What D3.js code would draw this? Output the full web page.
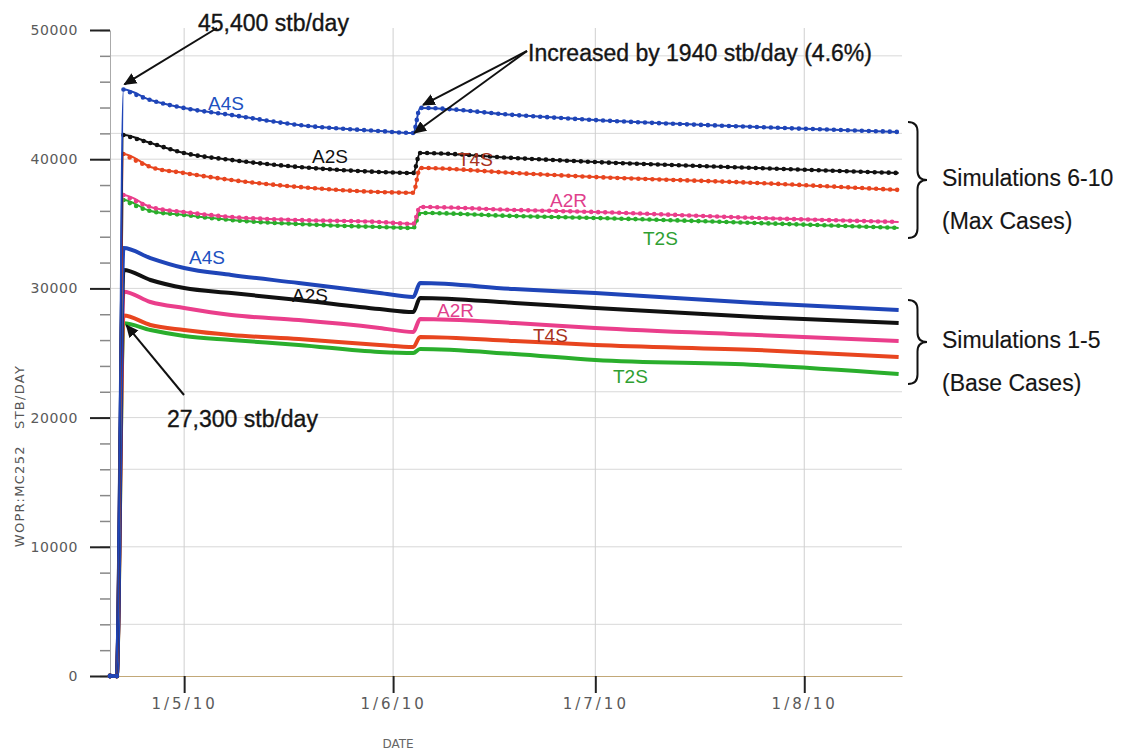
<!DOCTYPE html>
<html>
<head>
<meta charset="utf-8">
<script src="https://cdn.jsdelivr.net/npm/d3@7"></script>
<style>
  body { margin: 0; background: #fff; }
  svg { display: block; }
  .tick-lbl text { font-family: "DejaVu Sans", sans-serif; fill: #5a5a5a; }
  .note { font-family: "Liberation Sans", Arial, sans-serif; font-size: 23px; fill: #151515; stroke: #151515; stroke-width: 0.35px; }
  .series-lbl { font-family: "Liberation Sans", Arial, sans-serif; font-size: 19px; }
</style>
</head>
<body>
<svg id="chart" width="1129" height="751"></svg>
<script>
// sample dates shared by every series
const dates = ['2010-04-20', '2010-04-21', '2010-04-22', '2010-04-26', '2010-05-01', '2010-05-08',
               '2010-05-18', '2010-05-30', '2010-06-04', '2010-06-05', '2010-06-19', '2010-07-01',
               '2010-07-25', '2010-08-15'];

// Simulations 6-10 (max cases), stb/day
const maxA4S = [0, 0, 45400, 44580, 43960, 43420, 42650, 42180, 42030, 43970, 43420, 43030, 42490, 42110];
const maxA2S = [0, 0, 41870, 41250, 40480, 39940, 39400, 39010, 38930, 40480, 40090, 39780, 39320, 38930];
const maxT4S = [0, 0, 40400, 39400, 38930, 38390, 37850, 37460, 37400, 39320, 38930, 38620, 38160, 37620];
const maxA2R = [0, 0, 37230, 36300, 35910, 35530, 35290, 35140, 34990, 36300, 36070, 35910, 35450, 35140];
const maxT2S = [0, 0, 36840, 35990, 35680, 35290, 34980, 34750, 34680, 35840, 35600, 35450, 35060, 34680];

// Simulations 1-5 (base cases)
const baseA4S = [0, 0, 33130, 32350, 31580, 31040, 30420, 29650, 29340, 30420, 29950, 29640, 28870, 28330];
const baseA2S = [0, 0, 31420, 30650, 30030, 29640, 29100, 28400, 28170, 29260, 28870, 28480, 27790, 27320];
const baseA2R = [0, 0, 29750, 28950, 28480, 27940, 27550, 26940, 26630, 27630, 27320, 26940, 26390, 25930];
const baseT4S = [0, 0, 27900, 27170, 26780, 26390, 26080, 25620, 25460, 26240, 25930, 25620, 25230, 24690];
const baseT2S = [0, 0, 27300, 26780, 26320, 26010, 25620, 25080, 25000, 25310, 24920, 24460, 24070, 23370];

const monthTicks = ['2010-05-01', '2010-06-01', '2010-07-01', '2010-08-01'];
const yMajor = [0, 10000, 20000, 30000, 40000, 50000];
const yMinor = d3.range(0, 50001, 2000);
const yGrid = [4000, 10000, 16000, 20000, 22000, 30000, 40000, 42000, 48000];

const parse = d3.timeParse('%Y-%m-%d');
const fmt = d3.timeFormat('%-d/%-m/%y');

const svg = d3.select('#chart');

const x = d3.scaleTime()
    .domain([parse('2010-04-20'), new Date(2010, 7, 15, 12)])
    .range([110, 902]);
const y = d3.scaleLinear()
    .domain([0, 50000])
    .range([676, 30]);

const colors = { A4S: '#1f45b8', A2S: '#111111', T4S: '#e8451f', A2R: '#ea3e8b', T2S: '#2aae2c' };

const seriesList = [
  { name: 'T2S', kind: 'base', values: baseT2S },
  { name: 'T4S', kind: 'base', values: baseT4S },
  { name: 'A2R', kind: 'base', values: baseA2R },
  { name: 'A2S', kind: 'base', values: baseA2S },
  { name: 'A4S', kind: 'base', values: baseA4S },
  { name: 'T2S', kind: 'max', values: maxT2S },
  { name: 'A2R', kind: 'max', values: maxA2R },
  { name: 'T4S', kind: 'max', values: maxT4S },
  { name: 'A2S', kind: 'max', values: maxA2S },
  { name: 'A4S', kind: 'max', values: maxA4S }
].map(s => ({ ...s, points: s.values.map((v, i) => ({ date: parse(dates[i]), value: v })) }));

// grid
svg.append('g').selectAll('line')
  .data(yGrid).enter().append('line')
    .attr('x1', x.range()[0]).attr('x2', x.range()[1])
    .attr('y1', d => y(d)).attr('y2', d => y(d))
    .attr('stroke', '#d8d8d8').attr('stroke-width', 1);

svg.append('g').selectAll('line')
  .data(monthTicks.map(parse)).enter().append('line')
    .attr('x1', d => x(d)).attr('x2', d => x(d))
    .attr('y1', y(50000) - 2).attr('y2', y(0))
    .attr('stroke', '#cfcfcf').attr('stroke-width', 1);

// y axis: minor then major ticks
const yMin = svg.append('g')
    .attr('transform', `translate(${x.range()[0]},0)`)
    .call(d3.axisLeft(y).tickValues(yMinor).tickSize(10).tickSizeOuter(0).tickFormat(''));
yMin.select('.domain').attr('stroke', '#aaa');
yMin.selectAll('.tick line').attr('stroke', '#888').attr('stroke-width', 1.5);

const yMaj = svg.append('g')
    .attr('class', 'tick-lbl')
    .attr('transform', `translate(${x.range()[0]},0)`)
    .call(d3.axisLeft(y).tickValues(yMajor).tickSize(20).tickSizeOuter(0).tickPadding(12).tickFormat(d3.format('d')));
yMaj.select('.domain').remove();
yMaj.selectAll('.tick line').attr('stroke', '#222').attr('stroke-width', 2);
yMaj.selectAll('.tick text').style('font-size', '14px').style('letter-spacing', '0.6px');

// x axis
const xAx = svg.append('g')
    .attr('class', 'tick-lbl')
    .attr('transform', `translate(0,${y(0)})`)
    .call(d3.axisBottom(x).tickValues(monthTicks.map(parse)).tickSize(17).tickSizeOuter(0).tickPadding(5).tickFormat(fmt));
xAx.select('.domain').attr('stroke', '#c2a878').attr('stroke-width', 1.2);
xAx.selectAll('.tick line').attr('stroke', '#222').attr('stroke-width', 2);
xAx.selectAll('.tick text').style('font-size', '15px').style('letter-spacing', '3px');

svg.append('text')
    .attr('x', 398).attr('y', 748)
    .attr('text-anchor', 'middle')
    .style('font-family', '"DejaVu Sans", sans-serif').style('font-size', '12px').style('fill', '#666')
    .text('DATE');

svg.append('text')
    .attr('transform', 'translate(24,456) rotate(-90)')
    .attr('text-anchor', 'middle')
    .style('font-family', '"DejaVu Sans", sans-serif').style('font-size', '13px').style('fill', '#555')
    .style('white-space', 'pre').style('letter-spacing', '1.3px')
    .text('WOPR:MC252   STB/DAY');

// lines
const line = d3.line()
    .x(d => x(d.date))
    .y(d => y(d.value))
    .curve(d3.curveMonotoneX);

seriesList.forEach(s => {
  svg.append('path')
    .datum(s.points)
    .attr('fill', 'none')
    .attr('stroke', colors[s.name])
    .attr('stroke-width', s.kind === 'base' ? 4 : 2)
    .attr('stroke-linejoin', 'round')
    .attr('d', line);
  if (s.kind === 'max') {
    // beaded markers along the max-case curves
    svg.append('path')
      .datum(s.points.slice(2))
      .attr('fill', 'none')
      .attr('stroke', colors[s.name])
      .attr('stroke-width', 4.6)
      .attr('stroke-linecap', 'round')
      .attr('stroke-dasharray', '0 7')
      .attr('d', line);
    svg.append('g').selectAll('circle')
      .data(s.points.slice(0, 2)).enter().append('circle')
        .attr('cx', d => x(d.date)).attr('cy', d => y(d.value))
        .attr('r', 2.4).attr('fill', colors[s.name]);
  }
});

// series labels
const seriesLabels = [
  { t: 'A4S', c: '#2050c0', x: 208, y: 110 },
  { t: 'A2S', c: '#111', x: 312, y: 163 },
  { t: 'T4S', c: '#a8321c', x: 458, y: 166 },
  { t: 'A2R', c: '#e0408c', x: 550, y: 207 },
  { t: 'T2S', c: '#2f9f32', x: 643, y: 245 },
  { t: 'A4S', c: '#2050c0', x: 189, y: 264 },
  { t: 'A2S', c: '#111', x: 292, y: 302 },
  { t: 'A2R', c: '#e0408c', x: 437, y: 317 },
  { t: 'T4S', c: '#a8321c', x: 533, y: 342 },
  { t: 'T2S', c: '#2f9f32', x: 613, y: 383 }
];
svg.append('g').selectAll('text')
  .data(seriesLabels).enter().append('text')
    .attr('class', 'series-lbl')
    .attr('x', d => d.x).attr('y', d => d.y)
    .style('fill', d => d.c)
    .text(d => d.t);

// arrows
const defs = svg.append('defs');
defs.append('marker')
    .attr('id', 'arrow')
    .attr('viewBox', '0 0 10 10')
    .attr('refX', 9).attr('refY', 5)
    .attr('markerWidth', 13).attr('markerHeight', 13)
    .attr('markerUnits', 'userSpaceOnUse')
    .attr('orient', 'auto')
  .append('path')
    .attr('d', 'M0,0.5 L10,5 L0,9.5 z')
    .attr('fill', '#111');

const pk = parse('2010-04-22');
const arrows = [
  { x1: 217, y1: 28, x2: x(pk) + 1, y2: y(maxA4S[2]) - 5 },
  { x1: 527, y1: 51, x2: x(parse('2010-06-05')) + 3, y2: y(maxA4S[9]) - 3 },
  { x1: 527, y1: 51, x2: x(parse('2010-06-04')) + 1, y2: y(maxA4S[8]) },
  { x1: 184, y1: 395, x2: x(pk) + 3, y2: y(baseT2S[2]) + 2 }
];
svg.append('g').selectAll('line')
  .data(arrows).enter().append('line')
    .attr('x1', d => d.x1).attr('y1', d => d.y1)
    .attr('x2', d => d.x2).attr('y2', d => d.y2)
    .attr('stroke', '#111').attr('stroke-width', 2)
    .attr('marker-end', 'url(#arrow)');

svg.append('text').attr('class', 'note').attr('x', 198).attr('y', 31).text('45,400 stb/day');
svg.append('text').attr('class', 'note').attr('x', 528).attr('y', 61).text('Increased by 1940 stb/day (4.6%)');
svg.append('text').attr('class', 'note').attr('x', 167).attr('y', 427).text('27,300 stb/day');

// braces around the two groups of end values
function brace(x0, y0, y1, w) {
  const m = (y0 + y1) / 2, h = w / 2;
  return `M${x0},${y0} Q${x0 + h},${y0} ${x0 + h},${y0 + h} L${x0 + h},${m - h} Q${x0 + h},${m} ${x0 + w},${m}` +
         ` Q${x0 + h},${m} ${x0 + h},${m + h} L${x0 + h},${y1 - h} Q${x0 + h},${y1} ${x0},${y1}`;
}
const last = dates.length - 1;
const groups = [
  { top: maxA4S[last], bottom: maxT2S[last], lines: ['Simulations 6-10', '(Max Cases)'] },
  { top: baseA4S[last], bottom: baseT2S[last], lines: ['Simulations 1-5', '(Base Cases)'] }
];
groups.forEach(g => {
  const y0 = y(g.top) - 10, y1 = y(g.bottom) + 10;
  svg.append('path')
    .attr('d', brace(908, y0, y1, 19))
    .attr('fill', 'none').attr('stroke', '#111').attr('stroke-width', 2);
  const m = (y0 + y1) / 2;
  svg.append('text').attr('class', 'note').style('stroke-width', '0.15px').attr('x', 942).attr('y', m + 6).text(g.lines[0]);
  svg.append('text').attr('class', 'note').style('stroke-width', '0.15px').attr('x', 942).attr('y', m + 49).text(g.lines[1]);
});
</script>
</body>
</html>
